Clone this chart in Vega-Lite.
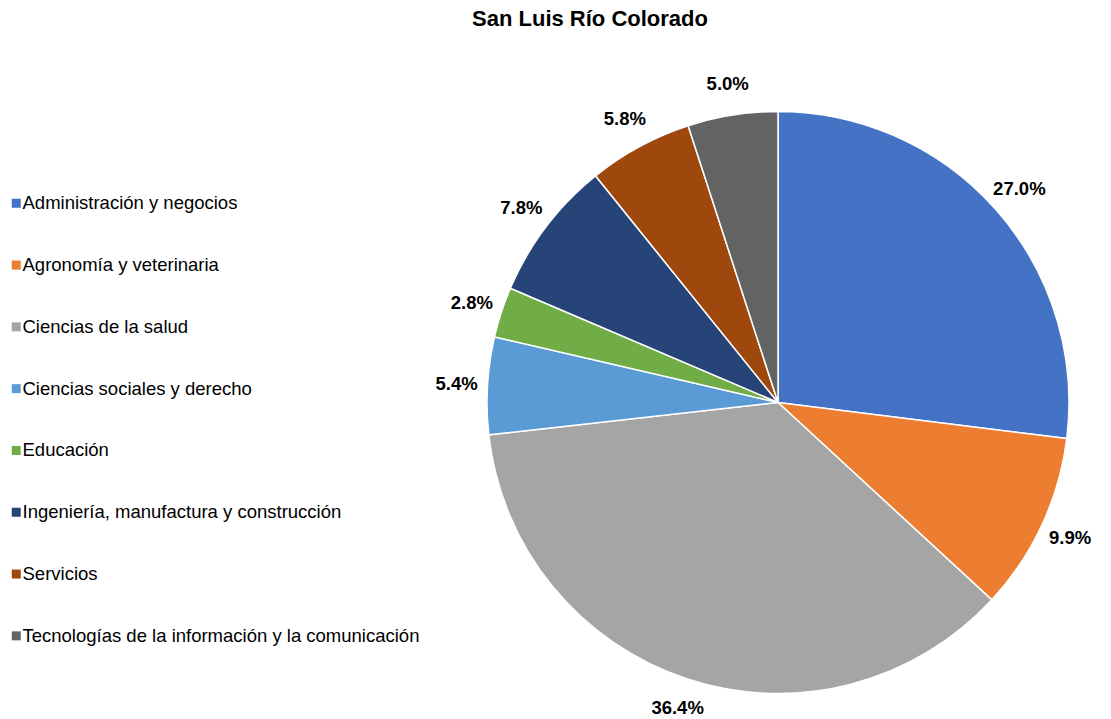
{
  "$schema": "https://vega.github.io/schema/vega-lite/v6.json",
  "autosize": "none",
  "width": 584,
  "height": 583,
  "padding": {"left": 486, "top": 111, "right": 41, "bottom": 25},
  "background": "white",
  "title": {
    "text": "San Luis Río Colorado",
    "font": "Liberation Sans",
    "fontSize": 22,
    "fontWeight": "bold",
    "color": "#000000",
    "anchor": "middle",
    "frame": "group",
    "dx": -188,
    "offset": 44
  },
  "data": {
    "values": [
      {"area": "Administración y negocios", "pct": 0.270, "orden": 1},
      {"area": "Agronomía y veterinaria", "pct": 0.099, "orden": 2},
      {"area": "Ciencias de la salud", "pct": 0.364, "orden": 3},
      {"area": "Ciencias sociales y derecho", "pct": 0.054, "orden": 4},
      {"area": "Educación", "pct": 0.028, "orden": 5},
      {"area": "Ingeniería, manufactura y construcción", "pct": 0.078, "orden": 6},
      {"area": "Servicios", "pct": 0.058, "orden": 7},
      {"area": "Tecnologías de la información y la comunicación", "pct": 0.050, "orden": 8}
    ]
  },
  "encoding": {
    "theta": {"field": "pct", "type": "quantitative", "stack": true},
    "order": {"field": "orden", "type": "quantitative"}
  },
  "layer": [
    {
      "mark": {"type": "arc", "outerRadius": 291, "stroke": "white", "strokeWidth": 1.5},
      "encoding": {
        "color": {
          "field": "area",
          "type": "nominal",
          "sort": null,
          "scale": {
            "domain": [
              "Administración y negocios",
              "Agronomía y veterinaria",
              "Ciencias de la salud",
              "Ciencias sociales y derecho",
              "Educación",
              "Ingeniería, manufactura y construcción",
              "Servicios",
              "Tecnologías de la información y la comunicación"
            ],
            "range": ["#4472C4", "#ED7D31", "#A5A5A5", "#5B9BD5", "#70AD47", "#264478", "#9E480E", "#636363"]
          },
          "legend": {
            "title": null,
            "orient": "none",
            "legendX": -479,
            "legendY": 83,
            "padding": 0,
            "symbolType": "square",
            "symbolSize": 81,
            "symbolStrokeWidth": 0,
            "labelFont": "Liberation Sans",
            "labelFontSize": 18.5,
            "labelColor": "#000000",
            "labelOffset": -3,
            "labelLimit": 600,
            "rowPadding": 42.8
          }
        }
      }
    },
    {
      "mark": {"type": "text", "radius": 322, "font": "Liberation Sans", "fontSize": 18.5, "fontWeight": "bold", "color": "#000000"},
      "encoding": {
        "text": {"field": "pct", "type": "quantitative", "format": ".1%"}
      }
    }
  ]
}
